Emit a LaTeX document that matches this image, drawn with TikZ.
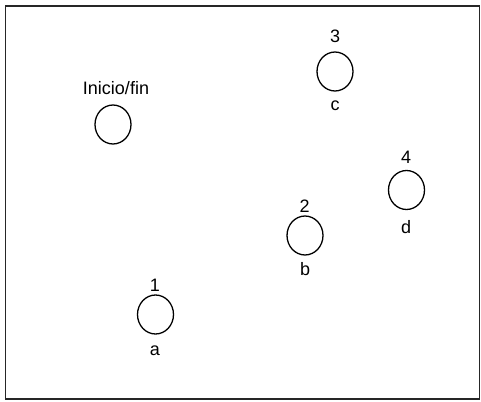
\documentclass[tikz,border=0pt]{standalone}
\usepackage{fontspec}
\setmainfont{Liberation Sans}
\usetikzlibrary{shapes.geometric}
\tikzset{
  st/.style={draw=black, line width=1.3pt, ellipse, minimum width=36pt, minimum height=39pt, inner sep=0pt},
  lbl/.style={inner sep=0pt, font=\fontsize{18}{20}\selectfont, anchor=center}
}
\begin{document}
\begin{tikzpicture}[x=1pt,y=-1pt]
\useasboundingbox (0,0) rectangle (481,401);
\draw[line width=1.5pt, black!85] (5.5,6) rectangle (479.5,399);
\node[st] (s0) at (113,124.5) {};
\node[lbl] (t0) at (116,88) {Inicio/fin};
\node[st] (s3) at (335,71.5) {};
\node[lbl] (n3) at (335,36.5) {3};
\node[lbl] (l3) at (335,106) {c};
\node[st] (s4) at (406.5,190) {};
\node[lbl] (n4) at (406,157.5) {4};
\node[lbl] (l4) at (406,227) {d};
\node[st] (s2) at (305,235.5) {};
\node[lbl] (n2) at (304.5,206.5) {2};
\node[lbl] (l2) at (305,269) {b};
\node[st] (s1) at (155.5,314.5) {};
\node[lbl] (n1) at (155,285) {1};
\node[lbl] (l1) at (155,351) {a};
\end{tikzpicture}
\end{document}
